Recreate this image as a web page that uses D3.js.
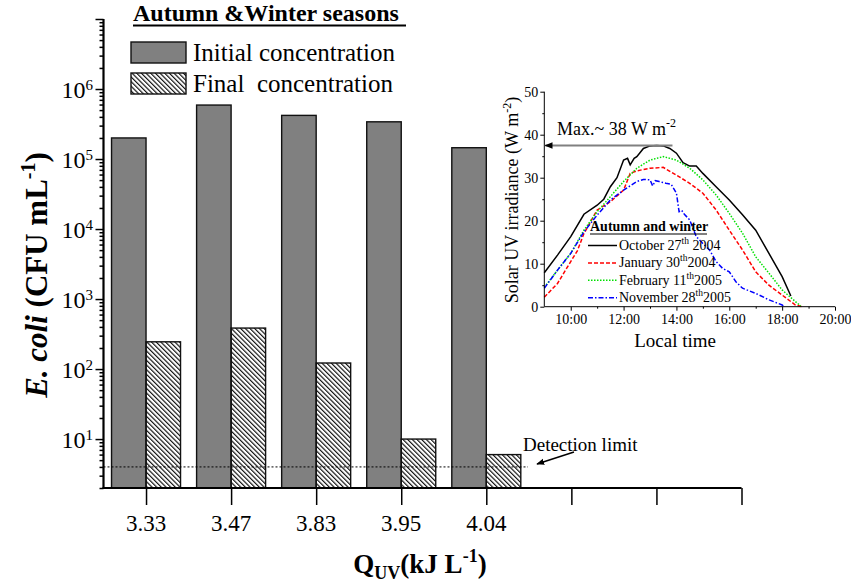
<!DOCTYPE html>
<html lang="en">
<head>
<meta charset="utf-8">
<title>E. coli inactivation - autumn and winter</title>
<script src="https://cdn.jsdelivr.net/npm/d3@7"></script>
<style>
body { margin: 0; background: #fff; }
svg text { font-family: "Liberation Serif", "Times New Roman", serif; fill: #000; }
</style>
</head>
<body>
<div id="chart"></div>
<script>
// ---- main bar chart data ----
var doseLabels = ["3.33", "3.47", "3.83", "3.95", "4.04", "", "", ""];
var initialConc = [2.0e5, 5.9e5, 4.2e5, 3.4e5, 1.45e5];
var finalConc = [245, 385, 122, 10, 6];
var detectionLimit = 4;
var yMajorTicks = [1e1, 1e2, 1e3, 1e4, 1e5, 1e6, 1e7];
var yLabelExp = ["1", "2", "3", "4", "5", "6"];

// ---- inset: solar UV irradiance (time in decimal hours) ----
var octTime = [9, 9.5, 10, 10.5, 11, 11.25, 11.5, 11.75, 12, 12.15, 12.25, 12.4, 12.5, 12.75, 13, 13.25, 13.5, 13.75, 14, 14.25, 14.5, 14.75, 15, 15.5, 16, 16.5, 17, 17.5, 18, 18.33];
var octUV = [7.9, 12, 16.3, 21.5, 23.6, 25, 27.9, 30, 34.1, 34.5, 33, 34.5, 34.9, 36.8, 37.4, 37.5, 37.4, 36.8, 35.7, 33.5, 32.7, 32.7, 31, 27.9, 24.8, 21.4, 17.8, 12.4, 7, 2.5];
var janTime = [9, 9.5, 10, 10.25, 10.5, 11, 11.5, 12, 12.25, 12.5, 13, 13.5, 14, 14.5, 15, 15.5, 16, 16.5, 17, 17.5, 18, 18.5, 18.75];
var janUV = [2.2, 5.4, 10.5, 13, 17, 22.5, 24.4, 27.1, 31, 31.6, 32.2, 32.4, 30.6, 28.7, 26.4, 22.5, 17.8, 13.2, 8.1, 5, 2.7, 0.4, 0];
var febTime = [9, 9.5, 10, 10.5, 11, 11.5, 12, 12.5, 13, 13.5, 14, 14.5, 15, 15.5, 16, 16.5, 17, 17.5, 18, 18.5, 18.7];
var febUV = [4.5, 8.5, 12.4, 17.8, 22.1, 25.6, 29.1, 32.2, 34.1, 34.9, 34.1, 32.2, 29.5, 26, 21.7, 17.1, 11.6, 7.8, 3.9, 1.2, 0.2];
var novTime = [9, 9.5, 10, 10.5, 11, 11.5, 12, 12.5, 12.75, 13, 13.1, 13.2, 13.35, 13.6, 13.8, 14, 14.1, 14.2, 14.3, 14.5, 14.75, 15, 15.25, 15.5, 15.75, 16, 16.25, 16.5, 17, 17.5, 18, 18.08];
var novUV = [4.3, 8.5, 12.4, 17.4, 21.3, 24.8, 27.1, 29.1, 29.6, 29.5, 28.1, 29.3, 29.1, 28.7, 28.5, 26.4, 22.1, 22.4, 21.5, 20.2, 16.3, 14.7, 13.2, 10.5, 8.9, 8.1, 5.8, 4.3, 3.1, 1.6, 0.4, 0];
var insetXTicks = [10, 12, 14, 16, 18, 20];
var insetYTicks = [0, 10, 20, 30, 40, 50];

var w = 851, h = 585;

var svg = d3.select("#chart").append("svg")
	.attr("width", w)
	.attr("height", h);

var defs = svg.append("defs");
defs.append("pattern")
	.attr("id", "hatch")
	.attr("patternUnits", "userSpaceOnUse")
	.attr("width", 3.3).attr("height", 3.3)
	.attr("patternTransform", "rotate(-45)")
	.append("line")
	.attr("x1", 0.6).attr("y1", 0).attr("x2", 0.6).attr("y2", 3.3)
	.attr("stroke", "#000").attr("stroke-width", 1.1);

defs.append("marker")
	.attr("id", "arrow")
	.attr("viewBox", "0 0 10 10")
	.attr("refX", 9).attr("refY", 5)
	.attr("markerWidth", 8).attr("markerHeight", 8)
	.attr("markerUnits", "userSpaceOnUse")
	.attr("orient", "auto-start-reverse")
	.append("path")
	.attr("d", "M0,1 L10,5 L0,9 z")
	.attr("fill", "#000");

// ---------------- main chart ----------------
var x = d3.scaleLinear().domain([0.5, 8]).range([103.5, 741.5]);
var y = d3.scaleLog().domain([2, 1e7]).range([488, 19]);
var bw = 34.5;

// bars
svg.selectAll("rect.initial")
	.data(initialConc)
	.enter()
	.append("rect")
	.attr("class", "initial")
	.attr("x", function(d, i) { return x(i + 1) - bw; })
	.attr("y", function(d) { return y(d); })
	.attr("width", bw)
	.attr("height", function(d) { return y.range()[0] - y(d); })
	.attr("fill", "#808080")
	.attr("stroke", "#111")
	.attr("stroke-width", 1.4);

svg.selectAll("rect.final")
	.data(finalConc)
	.enter()
	.append("rect")
	.attr("class", "final")
	.attr("x", function(d, i) { return x(i + 1); })
	.attr("y", function(d) { return y(d); })
	.attr("width", bw)
	.attr("height", function(d) { return y.range()[0] - y(d); })
	.attr("fill", "url(#hatch)")
	.attr("stroke", "#111")
	.attr("stroke-width", 1.4);

// detection limit
svg.append("line")
	.attr("x1", x(0.5)).attr("x2", 528)
	.attr("y1", y(detectionLimit)).attr("y2", y(detectionLimit))
	.attr("stroke", "#000").attr("stroke-width", 1)
	.attr("stroke-dasharray", "2,2");
svg.append("text")
	.attr("x", 523).attr("y", 451)
	.attr("font-size", 19)
	.text("Detection limit");
svg.append("line")
	.attr("x1", 574).attr("y1", 452)
	.attr("x2", 537).attr("y2", 464)
	.attr("stroke", "#000").attr("stroke-width", 1.5)
	.attr("marker-end", "url(#arrow)");

// y axis (log) minor + major ticks
var minorTicks = y.ticks().filter(function(v) { return yMajorTicks.indexOf(v) == -1; });
var yMinor = svg.append("g")
	.attr("transform", "translate(" + x(0.5) + ",0)")
	.call(d3.axisLeft(y).tickValues(minorTicks).tickSize(4).tickFormat(""));
var yMajor = svg.append("g")
	.attr("transform", "translate(" + x(0.5) + ",0)")
	.call(d3.axisLeft(y).tickValues(yMajorTicks).tickSize(8).tickFormat(""));
[yMinor, yMajor].forEach(function(g) {
	g.select(".domain").remove();
	g.selectAll("line").attr("stroke", "#000").attr("stroke-width", 1.5);
});

svg.selectAll("text.ylab")
	.data(yMajorTicks.slice(0, 6))
	.enter()
	.append("text")
	.attr("class", "ylab")
	.attr("text-anchor", "end")
	.attr("x", 93)
	.attr("y", function(d) { return y(d) + 8.5; })
	.attr("font-size", 24)
	.each(function(d, i) {
		var t = d3.select(this);
		t.append("tspan").text("10");
		t.append("tspan").attr("dy", -8).attr("font-size", 15).text(yLabelExp[i]);
	});

// x axis
var xAxis = svg.append("g")
	.attr("transform", "translate(0," + y.range()[0] + ")")
	.call(d3.axisBottom(x).tickValues(d3.range(1, 9)).tickSize(17).tickFormat(""));
xAxis.select(".domain").remove();
xAxis.selectAll("line").attr("stroke", "#000").attr("stroke-width", 1.5);

svg.selectAll("text.xlab")
	.data(doseLabels)
	.enter()
	.append("text")
	.attr("class", "xlab")
	.attr("text-anchor", "middle")
	.attr("x", function(d, i) { return x(i + 1); })
	.attr("y", 531)
	.attr("font-size", 23)
	.text(function(d) { return d; });

// axis lines
svg.append("line")
	.attr("x1", x(0.5)).attr("x2", x(0.5))
	.attr("y1", y.range()[1]).attr("y2", y.range()[0] + 1)
	.attr("stroke", "#000").attr("stroke-width", 2.2);
svg.append("line")
	.attr("x1", x(0.5) - 1).attr("x2", x(8))
	.attr("y1", y.range()[0]).attr("y2", y.range()[0])
	.attr("stroke", "#000").attr("stroke-width", 2.2);

// axis titles
var xt = svg.append("text")
	.attr("x", 420).attr("y", 573)
	.attr("text-anchor", "middle")
	.attr("font-size", 27)
	.attr("font-weight", "bold");
xt.append("tspan").text("Q");
xt.append("tspan").attr("dy", 6).attr("font-size", 18).text("UV");
xt.append("tspan").attr("dy", -6).text("(kJ L");
xt.append("tspan").attr("dy", -11).attr("font-size", 18).text("-1");
xt.append("tspan").attr("dy", 11).text(")");

var yt = svg.append("text")
	.attr("transform", "translate(47,275) rotate(-90)")
	.attr("text-anchor", "middle")
	.attr("font-size", 31)
	.attr("font-weight", "bold");
yt.append("tspan").attr("font-style", "italic").text("E. coli");
yt.append("tspan").text(" (CFU mL");
yt.append("tspan").attr("dy", -12).attr("font-size", 20).text("-1");
yt.append("tspan").attr("dy", 12).text(")");

// legend
svg.append("text")
	.attr("x", 133).attr("y", 21)
	.attr("font-size", 24).attr("font-weight", "bold")
	.text("Autumn &Winter seasons");
svg.append("line")
	.attr("x1", 133).attr("x2", 406).attr("y1", 25.5).attr("y2", 25.5)
	.attr("stroke", "#000").attr("stroke-width", 2);
var legendItems = [
	{ label: "Initial concentration", fill: "#808080" },
	{ label: "Final  concentration", fill: "url(#hatch)" }
];
var leg = svg.selectAll("g.leg")
	.data(legendItems)
	.enter()
	.append("g")
	.attr("class", "leg")
	.attr("transform", function(d, i) { return "translate(131," + (42 + i * 31) + ")"; });
leg.append("rect")
	.attr("width", 55).attr("height", 21)
	.attr("fill", function(d) { return d.fill; })
	.attr("stroke", "#111").attr("stroke-width", 1.4);
leg.append("text")
	.attr("x", 62).attr("y", 19)
	.attr("font-size", 25)
	.style("white-space", "pre")
	.text(function(d) { return d.label; });

// ---------------- inset ----------------
var xi = d3.scaleLinear().domain([9, 20]).range([544.3, 835]);
var yi = d3.scaleLinear().domain([0, 50]).range([306.7, 91.7]);

var series = [
	{ t: octTime, v: octUV, color: "#000", dash: null },
	{ t: janTime, v: janUV, color: "#ff0000", dash: "4,2" },
	{ t: febTime, v: febUV, color: "#00e000", dash: "1.5,1.5" },
	{ t: novTime, v: novUV, color: "#0000ff", dash: "5,2,1.5,2" }
];
var line = d3.line()
	.x(function(d) { return xi(d[0]); })
	.y(function(d) { return yi(d[1]); });

svg.selectAll("path.uv")
	.data(series)
	.enter()
	.append("path")
	.attr("class", "uv")
	.attr("d", function(s) { return line(d3.zip(s.t, s.v)); })
	.attr("fill", "none")
	.attr("stroke", function(s) { return s.color; })
	.attr("stroke-width", 1.5)
	.attr("stroke-dasharray", function(s) { return s.dash; });

var yiAxis = svg.append("g")
	.attr("transform", "translate(" + xi(9) + ",0)")
	.call(d3.axisLeft(yi).tickValues(insetYTicks).tickSize(4).tickPadding(2));
svg.append("g")
	.attr("transform", "translate(" + xi(9) + ",0)")
	.call(d3.axisLeft(yi).tickValues(d3.range(5, 50, 10)).tickSize(2).tickFormat(""))
	.select(".domain").remove();
var xiAxis = svg.append("g")
	.attr("transform", "translate(0," + yi(0) + ")")
	.call(d3.axisBottom(xi).tickValues(insetXTicks).tickSize(4).tickPadding(3)
		.tickFormat(function(d) { return d + ":00"; }));
svg.append("g")
	.attr("transform", "translate(0," + yi(0) + ")")
	.call(d3.axisBottom(xi).tickValues(d3.range(11, 20, 2)).tickSize(2).tickFormat(""))
	.select(".domain").remove();
[yiAxis, xiAxis].forEach(function(g) {
	g.selectAll("text").attr("font-size", 14).attr("font-family", "Liberation Serif");
	g.select(".domain").attr("d", g === yiAxis
		? "M0," + yi(50) + "V" + yi(0)
		: "M" + xi(9) + ",0H" + xi(20));
});
svg.selectAll("g.tick line, path.domain").attr("stroke", "#000");

svg.append("text")
	.attr("x", xi(13.95)).attr("y", 347)
	.attr("text-anchor", "middle")
	.attr("font-size", 19)
	.text("Local time");

var yit = svg.append("text")
	.attr("transform", "translate(518,200) rotate(-90)")
	.attr("text-anchor", "middle")
	.attr("font-size", 18);
yit.append("tspan").text("Solar UV irradiance (W m");
yit.append("tspan").attr("dy", -7).attr("font-size", 12).text("-2");
yit.append("tspan").attr("dy", 7).text(")");

// max annotation
svg.append("line")
	.attr("x1", xi(13.85)).attr("x2", xi(9) + 1)
	.attr("y1", yi(37.5)).attr("y2", yi(37.5))
	.attr("stroke", "#808080").attr("stroke-width", 2)
	.attr("marker-end", "url(#arrow)");
var mx = svg.append("text")
	.attr("x", 557).attr("y", 135)
	.attr("font-size", 18);
mx.append("tspan").text("Max.~ 38 W m");
mx.append("tspan").attr("dy", -8).attr("font-size", 12).text("-2");

// inset legend
svg.append("text")
	.attr("x", 590).attr("y", 231)
	.attr("font-size", 14).attr("font-weight", "bold")
	.text("Autumn and winter");
svg.append("line")
	.attr("x1", 590).attr("x2", 707).attr("y1", 234).attr("y2", 234)
	.attr("stroke", "#000").attr("stroke-width", 1.2);
var insetLegend = [
	{ name: "October 27", sup: "th", year: " 2004" },
	{ name: "January 30", sup: "th", year: "2004" },
	{ name: "February 11", sup: "th", year: "2005" },
	{ name: "November 28", sup: "th", year: "2005" }
];
var il = svg.selectAll("g.ileg")
	.data(insetLegend)
	.enter()
	.append("g")
	.attr("class", "ileg")
	.attr("transform", function(d, i) { return "translate(588," + (250 + i * 17.4) + ")"; });
il.append("line")
	.attr("x1", 0).attr("x2", 29).attr("y1", -4.5).attr("y2", -4.5)
	.attr("stroke", function(d, i) { return series[i].color; })
	.attr("stroke-width", 1.5)
	.attr("stroke-dasharray", function(d, i) { return series[i].dash; });
il.append("text")
	.attr("x", 31).attr("y", 0)
	.attr("font-size", 14)
	.style("white-space", "pre")
	.each(function(d) {
		var t = d3.select(this);
		t.append("tspan").text(d.name);
		t.append("tspan").attr("dy", -6).attr("font-size", 9.5).text(d.sup);
		t.append("tspan").attr("dy", 6).text(d.year);
	});
</script>
</body>
</html>
